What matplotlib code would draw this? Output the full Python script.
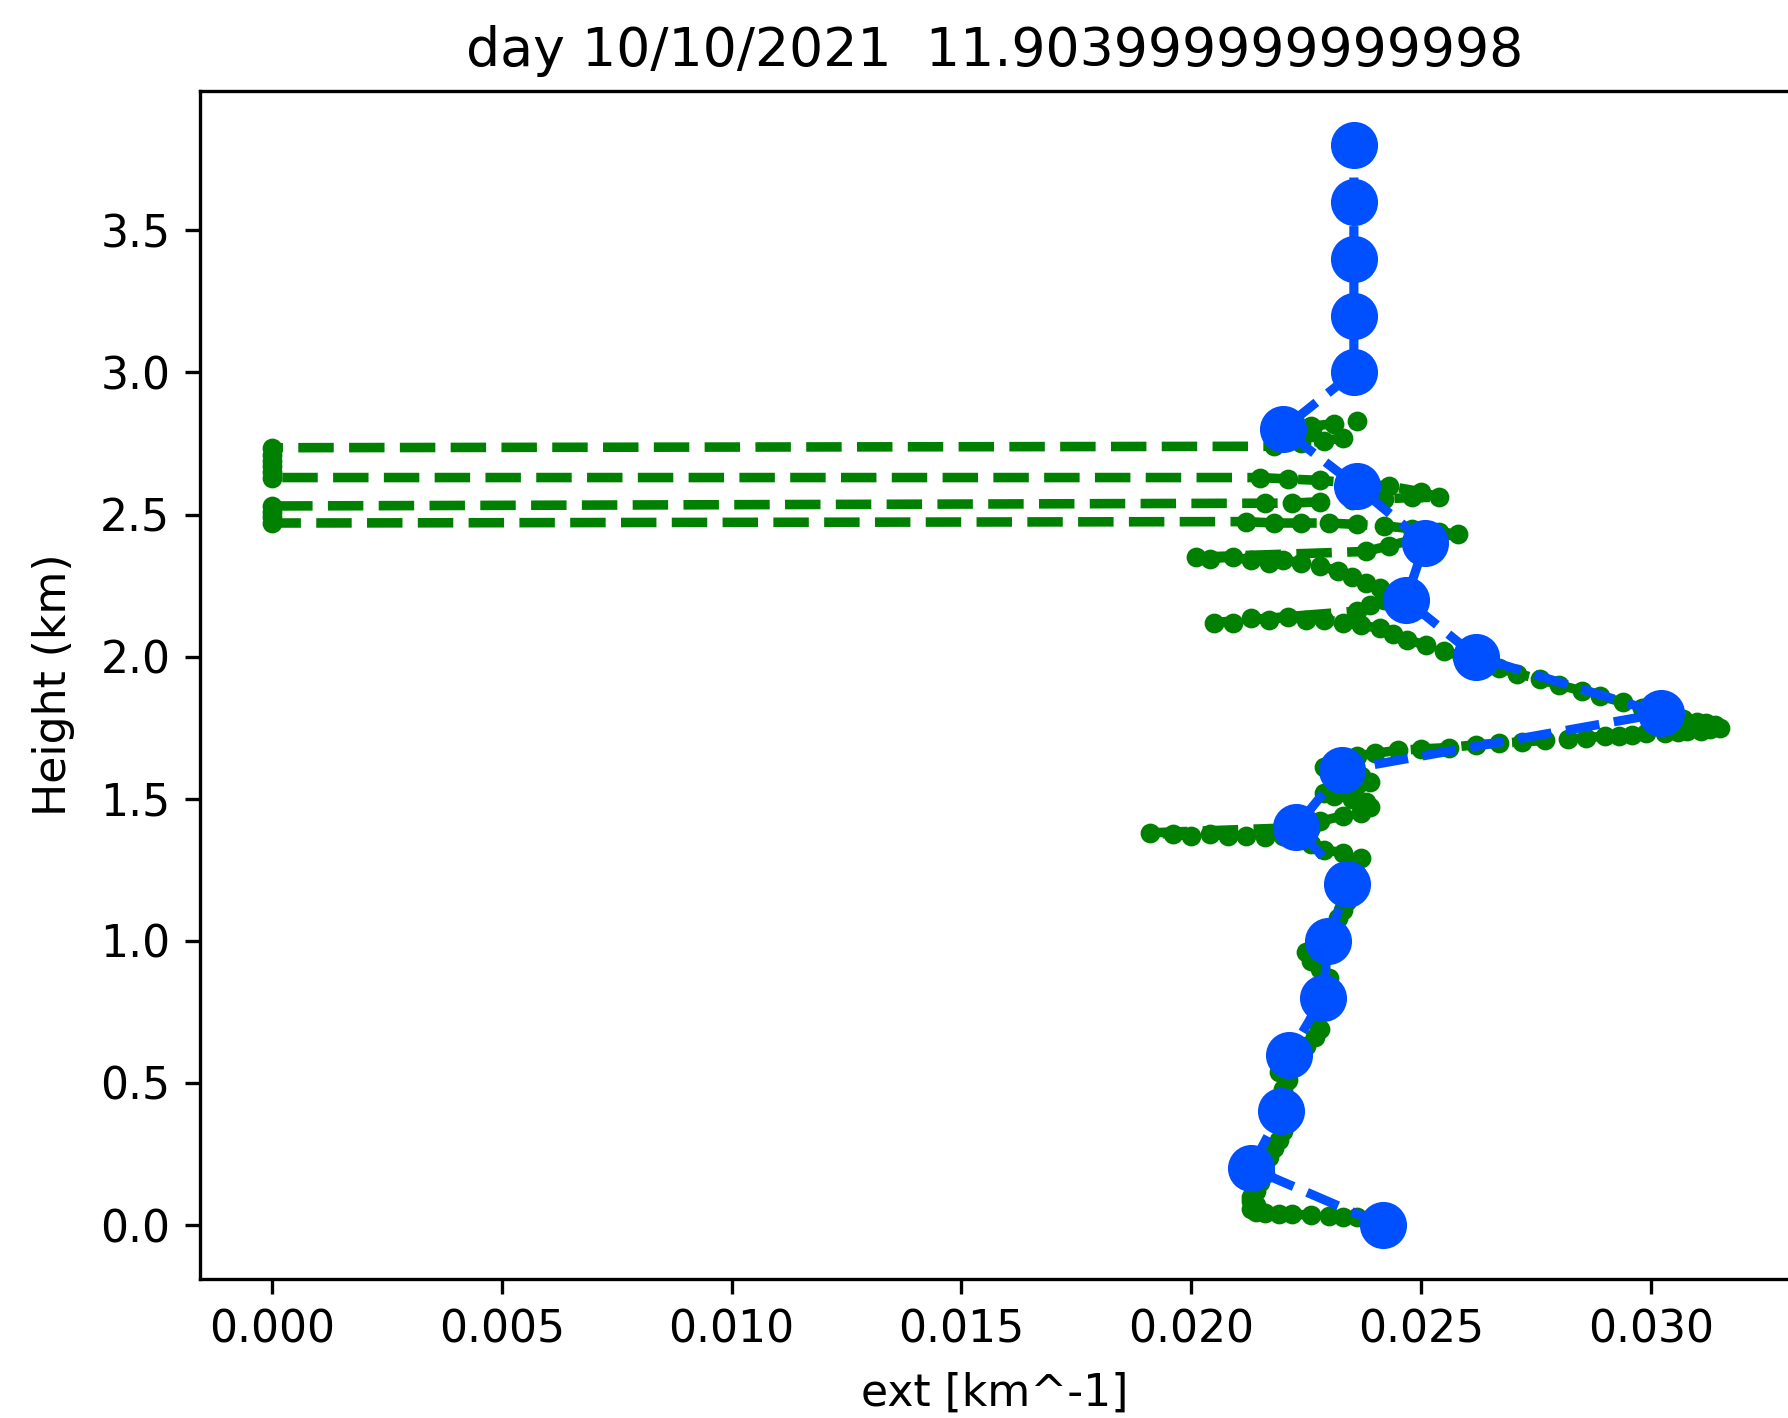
import numpy as np
import matplotlib
matplotlib.use("Agg")
import matplotlib.pyplot as plt

# Blue profile (binned)
blue_height = [0.0, 0.2, 0.4, 0.6, 0.8, 1.0, 1.2, 1.4, 1.6, 1.8,
               2.0, 2.2, 2.4, 2.6, 2.8, 3.0, 3.2, 3.4, 3.6, 3.8]
blue_ext = [0.02417, 0.02130, 0.02195, 0.02213, 0.02287, 0.02298, 0.02340, 0.02228, 0.02328, 0.03022,
            0.02620, 0.02467, 0.02509, 0.02360, 0.02199, 0.02354, 0.02354, 0.02354, 0.02354, 0.02354]

# Green profile (raw, path order)
green_ext = [
    0.0236, 0.0233, 0.0230, 0.0226, 0.0222, 0.0219, 0.0216, 0.0214, 0.0213, 0.0214, 0.0213, 0.0213,
    0.0214, 0.0215, 0.0216, 0.0215, 0.0217, 0.0218, 0.0219, 0.0220, 0.0221, 0.0222, 0.0221, 0.0220,
    0.0220, 0.0221, 0.0219, 0.0221, 0.0223, 0.0225, 0.0227, 0.0228, 0.0227, 0.0228, 0.0229, 0.0228,
    0.0229, 0.0230, 0.0228, 0.0226, 0.0225, 0.0227, 0.0229, 0.0231, 0.0232, 0.0233, 0.0234, 0.0235,
    0.0234, 0.0236, 0.0235, 0.0237,
    0.0233, 0.0229, 0.0226, 0.0223, 0.0220, 0.0216, 0.0212, 0.0208, 0.0204, 0.0200, 0.0196, 0.0191,
    0.0226, 0.0228, 0.0233, 0.0237, 0.0239, 0.0238, 0.0235, 0.0231, 0.0229, 0.0232, 0.0236, 0.0239,
    0.0237, 0.0233, 0.0229, 0.0232, 0.0236,
    0.0240, 0.0245, 0.0250, 0.0256, 0.0262, 0.0267, 0.0272, 0.0277, 0.0282, 0.0286, 0.0290, 0.0293,
    0.0296, 0.0299, 0.0303, 0.0306, 0.0308, 0.0311, 0.0313, 0.0315, 0.0314, 0.0312, 0.0310, 0.0307,
    0.0304, 0.0301,
    0.0298, 0.0294, 0.0289, 0.0285, 0.0280, 0.0276, 0.0271, 0.0267, 0.0263, 0.0259, 0.0255, 0.0251,
    0.0247, 0.0244, 0.0241, 0.0237, 0.0233,
    0.0229, 0.0225, 0.0221, 0.0217, 0.0213, 0.0209, 0.0205,
    0.0236, 0.0239, 0.0242, 0.0244, 0.0241, 0.0238, 0.0235, 0.0232,
    0.0228, 0.0224, 0.0220, 0.0217, 0.0213, 0.0209, 0.0204, 0.0201,
    0.0238, 0.0243, 0.0248, 0.0253, 0.0258, 0.0254, 0.0248, 0.0242, 0.0236, 0.0230, 0.0224, 0.0218,
    0.0212,
    0.0, 0.0, 0.0, 0.0,
    0.0216, 0.0222, 0.0228, 0.0235, 0.0242, 0.0248, 0.0254, 0.0250, 0.0243, 0.0236, 0.0228, 0.0221,
    0.0215,
    0.0, 0.0, 0.0, 0.0, 0.0, 0.0,
    0.0218, 0.0224, 0.0229, 0.0233, 0.0226, 0.0221, 0.0226, 0.0231, 0.0236,
]
green_height = [
    0.028, 0.030, 0.032, 0.035, 0.038, 0.040, 0.042, 0.045, 0.055, 0.070, 0.085, 0.100,
    0.12, 0.15, 0.18, 0.21, 0.24, 0.27, 0.30, 0.33, 0.36, 0.39, 0.42, 0.45,
    0.48, 0.51, 0.54, 0.57, 0.60, 0.63, 0.66, 0.69, 0.72, 0.75, 0.78, 0.81,
    0.84, 0.87, 0.90, 0.93, 0.96, 0.99, 1.02, 1.05, 1.08, 1.11, 1.14, 1.17,
    1.20, 1.23, 1.26, 1.29,
    1.31, 1.32, 1.34, 1.36, 1.37, 1.365, 1.37, 1.37, 1.375, 1.37, 1.375, 1.38,
    1.40, 1.42, 1.44, 1.45, 1.47, 1.49, 1.50, 1.51, 1.52, 1.54, 1.55, 1.56,
    1.58, 1.59, 1.61, 1.63, 1.65,
    1.66, 1.67, 1.675, 1.68, 1.69, 1.695, 1.70, 1.705, 1.71, 1.715, 1.72, 1.72,
    1.725, 1.73, 1.73, 1.735, 1.74, 1.74, 1.745, 1.75, 1.76, 1.765, 1.77, 1.78,
    1.79, 1.80,
    1.82, 1.84, 1.86, 1.88, 1.90, 1.92, 1.94, 1.96, 1.98, 2.00, 2.02, 2.04,
    2.06, 2.08, 2.10, 2.11, 2.12,
    2.13, 2.13, 2.14, 2.13, 2.135, 2.12, 2.12,
    2.16, 2.18, 2.20, 2.22, 2.24, 2.26, 2.28, 2.30,
    2.32, 2.33, 2.34, 2.33, 2.34, 2.35, 2.345, 2.35,
    2.37, 2.39, 2.41, 2.42, 2.43, 2.44, 2.45, 2.46, 2.465, 2.47, 2.47, 2.47,
    2.475,
    2.47, 2.49, 2.51, 2.53,
    2.54, 2.54, 2.545, 2.55, 2.555, 2.56, 2.56, 2.58, 2.60, 2.61, 2.62, 2.625,
    2.63,
    2.63, 2.65, 2.67, 2.69, 2.71, 2.735,
    2.74, 2.75, 2.76, 2.77, 2.79, 2.80, 2.81, 2.82, 2.83,
]

title_text = "day 10/10/2021  11.903999999999998"
xlabel_text = "ext [km^-1]"
ylabel_text = "Height (km)"

plt.rcParams['font.size'] = 10.6

fig = plt.figure(figsize=(5.96, 4.7267), dpi=300)
ax = fig.add_axes([0.1116, 0.098, 0.8895, 0.8378])

ax.plot(green_ext, green_height, 'g.--', linewidth=2.3, markersize=7.5)
ax.plot(blue_ext, blue_height, 'o--', color='#0050ff', linewidth=2.2, markersize=10.3)

ax.set_xlim(-0.00158, 0.03303)
ax.set_title(title_text, fontsize=12.9)
ax.set_xlabel(xlabel_text, labelpad=5)
ax.set_ylabel(ylabel_text, labelpad=6)
ax.set_xticks([0.0, 0.005, 0.010, 0.015, 0.020, 0.025, 0.030])
ax.set_yticks([0.0, 0.5, 1.0, 1.5, 2.0, 2.5, 3.0, 3.5])

fig.savefig("out.png", dpi=300)
